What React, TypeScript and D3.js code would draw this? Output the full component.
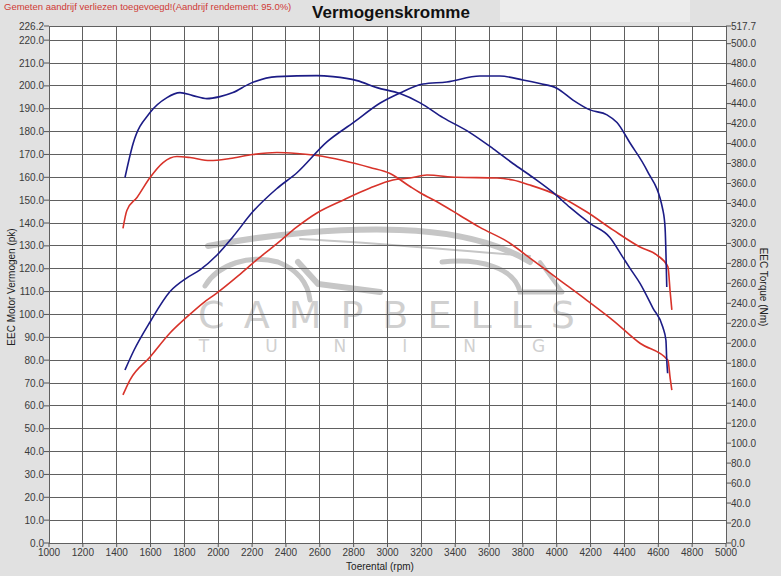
import * as d3 from "d3"
import React from "react"

// rpm / value pairs
const bluePowerRpm = [1449, 1500, 1597, 1715, 1815, 1890, 1993, 2087, 2205, 2345, 2465, 2642, 2800, 2957, 3074, 3210, 3350, 3546, 3664, 3800, 3900, 4000, 4096, 4196, 4297, 4356, 4433, 4533, 4627, 4640, 4650]
const bluePower = [75.7, 84, 96.7, 110, 116, 119.4, 126, 134, 145, 155, 162, 175.5, 184, 192.5, 196.9, 200.8, 201.7, 204.3, 204.3, 202.6, 201, 199, 193.8, 189.5, 187.3, 184, 175, 163, 145.7, 138, 112]

const blueTorqueRpm = [1449, 1497, 1597, 1697, 1774, 1850, 1933, 2010, 2087, 2187, 2347, 2583, 2678, 2820, 2938, 3074, 3190, 3328, 3487, 3623, 3741, 3860, 3978, 4078, 4196, 4314, 4391, 4433, 4492, 4569, 4627, 4645, 4650, 4655]
const blueTorque = [366, 400, 431, 446, 451, 448, 445, 447, 451, 460, 467, 468, 467, 463, 456, 450, 441, 426, 411, 395, 380, 366, 351, 336, 320, 306, 286, 275, 260, 235, 216, 203, 183, 170]

const redPowerRpm = [1437, 1478, 1597, 1715, 1815, 1910, 1993, 2110, 2205, 2347, 2465, 2583, 2737, 2897, 3032, 3133, 3233, 3410, 3647, 3741, 3842, 4000, 4178, 4332, 4492, 4592, 4657, 4670, 4680]
const redPower = [64.8, 71.3, 81.4, 91.9, 98.9, 105, 109.4, 116.4, 122.5, 131, 138.3, 144.4, 150, 155.3, 158.8, 159.7, 161, 160, 159.7, 158.8, 156.6, 152.3, 144.8, 137, 129.5, 126, 120.8, 110, 102]

const redTorqueRpm = [1437, 1460, 1520, 1597, 1674, 1756, 1833, 1951, 2069, 2205, 2347, 2465, 2583, 2737, 2897, 3015, 3133, 3190, 3310, 3428, 3546, 3706, 3860, 4019, 4178, 4332, 4492, 4657, 4670, 4680]
const redTorque = [315, 333, 346, 366, 381, 387, 386, 383, 385, 389, 391, 390, 388, 383, 376, 370, 357, 351, 340, 328, 316, 302, 283, 263, 243, 223, 200, 183, 165, 153]

const xTicks = d3.range(1000, 5001, 200)
const leftTicks = d3.range(0, 221, 10)
const rightTicks = d3.range(0, 501, 20)
const leftMax = 226.2
const rightMax = 517.7

const W = 781
const H = 576
const m = { left: 49, right: 726, top: 26, bottom: 543 }
const font = "Liberation Sans, Arial, sans-serif"
const BLUE = "#1c1c86"
const RED = "#d8332a"

const App = () => {
  const x = d3.scaleLinear().domain([1000, 5000]).range([m.left, m.right])
  const yL = d3.scaleLinear().domain([0, leftMax]).range([m.bottom, m.top])
  const yR = d3.scaleLinear().domain([0, rightMax]).range([m.bottom, m.top])

  const mk = (rpm: number[], v: number[], y: any) =>
    d3.line<number>().x((d, i) => x(rpm[i])).y((d) => y(d)).curve(d3.curveMonotoneX)(v) || ""

  const series = [
    { d: mk(redTorqueRpm, redTorque, yR), c: RED },
    { d: mk(redPowerRpm, redPower, yL), c: RED },
    { d: mk(blueTorqueRpm, blueTorque, yR), c: BLUE },
    { d: mk(bluePowerRpm, bluePower, yL), c: BLUE },
  ]

  return (
    <svg width={W} height={H} style={{ position: "absolute", left: 0, top: 0, display: "block" }} fontFamily={font}>
      <rect width={W} height={H} fill="#e1e1e1" />
      <rect x={500} y={0} width={190} height={22} fill="#ececec" />
      <text x={4} y={10} fontSize={9.5} fill="#d03a35">Gemeten aandrijf verliezen toegevoegd!(Aandrijf rendement: 95.0%)</text>
      <text x={391} y={18} fontSize={17} fontWeight="bold" textAnchor="middle" fill="#111">Vermogenskromme</text>

      <rect x={m.left} y={m.top} width={m.right - m.left} height={m.bottom - m.top} fill="#fff" />

      {/* watermark */}
      <g fill="none" stroke="#c6c6c6" strokeLinecap="round">
        <path d="M208,246 C270,234 340,228 400,230 C460,232 500,244 530,262" strokeWidth={6} />
        <path d="M300,239 C380,243 450,250 530,256" strokeWidth={2} />
        <path d="M205,286 C218,264 250,254 278,262 C298,270 308,284 310,300" strokeWidth={5} />
        <path d="M298,262 L318,284 L380,292" strokeWidth={6} />
        <path d="M442,262 C480,258 515,268 520,292 L562,292" strokeWidth={5} />
        <path d="M540,262 L562,292" strokeWidth={4} />
      </g>
      <text x={396} y={328} fontSize={38} textAnchor="middle" fill="#d0d0d0" letterSpacing={19} fontFamily="DejaVu Sans, sans-serif">CAMPBELLS</text>
      <text x={400} y={352} fontSize={17} textAnchor="middle" fill="#d0d0d0" letterSpacing={56} fontFamily="DejaVu Sans, sans-serif">TUNING</text>

      {/* grid */}
      <g stroke="#606060" strokeWidth={1} shapeRendering="crispEdges">
        {xTicks.map((t) => (
          <line key={"v" + t} x1={x(t)} x2={x(t)} y1={m.top} y2={m.bottom} />
        ))}
        {leftTicks.map((t) => (
          <line key={"h" + t} x1={m.left} x2={m.right} y1={yL(t)} y2={yL(t)} />
        ))}
        <line x1={m.left} x2={m.right} y1={m.top} y2={m.top} />
      </g>

      {/* curves */}
      {series.map((s, i) => (
        <path key={i} d={s.d} fill="none" stroke={s.c} strokeWidth={1.6} strokeLinejoin="round" />
      ))}

      {/* left axis */}
      <g fontSize={10} fill="#3a3a3a">
        {[...leftTicks, leftMax].map((t) => (
          <g key={"l" + t} transform={`translate(0,${yL(t)})`}>
            <line x1={m.left - 5} x2={m.left} stroke="#555" />
            <text x={m.left - 5} dy="0.35em" textAnchor="end">{t.toFixed(1)}</text>
          </g>
        ))}
      </g>
      {/* right axis */}
      <g fontSize={10} fill="#3a3a3a">
        {[...rightTicks, rightMax].map((t) => (
          <g key={"r" + t} transform={`translate(0,${yR(t)})`}>
            <line x1={m.right} x2={m.right + 5} stroke="#555" />
            <text x={m.right + 5} dy="0.35em">{t.toFixed(1)}</text>
          </g>
        ))}
      </g>
      {/* bottom axis */}
      <g fontSize={10} fill="#3a3a3a">
        {xTicks.map((t) => (
          <g key={"b" + t} transform={`translate(${x(t)},${m.bottom})`}>
            <line y1={0} y2={4} stroke="#555" />
            <text y={13} textAnchor="middle">{t}</text>
          </g>
        ))}
      </g>

      <text x={380} y={570} fontSize={10} textAnchor="middle" fill="#222">Toerental (rpm)</text>
      <text transform="translate(15,287) rotate(-90)" fontSize={10} textAnchor="middle" fill="#222">EEC Motor Vermogen (pk)</text>
      <text transform="translate(760,287) rotate(90)" fontSize={10} textAnchor="middle" fill="#222">EEC Torque (Nm)</text>
    </svg>
  )
}

export default App
